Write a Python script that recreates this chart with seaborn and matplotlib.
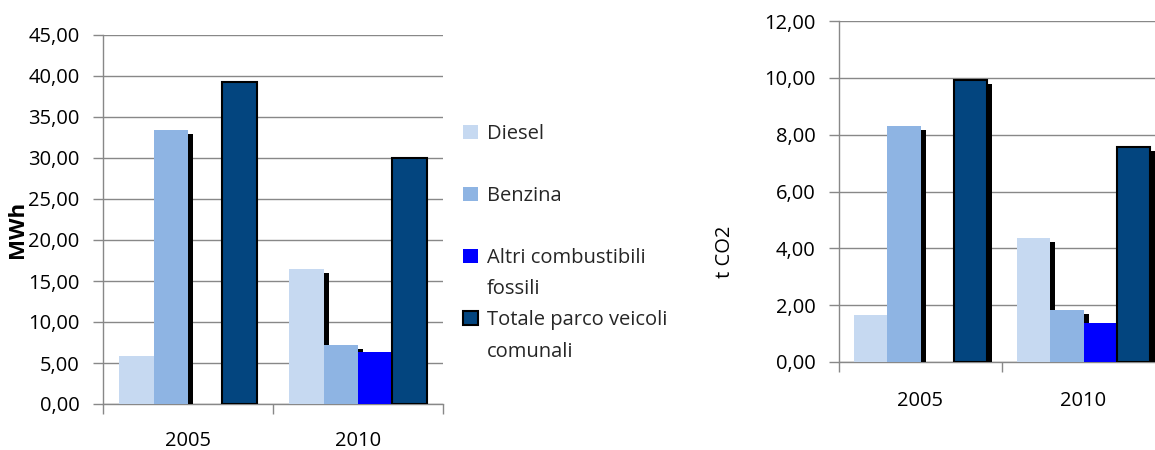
import matplotlib
matplotlib.use("Agg")
import matplotlib.pyplot as plt
import matplotlib.patheffects as pe
from matplotlib.patches import Rectangle
from matplotlib.ticker import FixedLocator, FuncFormatter
import seaborn as sns
import pandas as pd

years = ["2005", "2010"]
series = ["Diesel", "Benzina", "Altri combustibili fossili", "Totale parco veicoli comunali"]
legend_labels = ["Diesel", "Benzina", "Altri combustibili", "fossili", "Totale parco veicoli", "comunali"]
mwh_diesel = [5.9, 16.5]
mwh_benzina = [33.4, 7.2]
mwh_altri = [0.0, 6.3]
mwh_totale = [39.3, 30.0]
co2_diesel = [1.64, 4.35]
co2_benzina = [8.29, 1.82]
co2_altri = [0.0, 1.36]
co2_totale = [9.91, 7.57]
mwh_ticks = [0, 5, 10, 15, 20, 25, 30, 35, 40, 45]
co2_ticks = [0, 2, 4, 6, 8, 10, 12]

colors = ["#C6D9F1", "#8EB4E3", "#0000FF", "#03457F"]
GRID = "#888888"
FS = 14.5

sns.set_theme(style="white")
plt.rcParams["font.family"] = ["Open Sans", "DejaVu Sans"]


def make_df(vals):
    rows = []
    for s, v in zip(series, vals):
        for y, x in zip(years, v):
            rows.append({"year": y, "series": s, "value": x})
    return pd.DataFrame(rows)


df_mwh = make_df([mwh_diesel, mwh_benzina, mwh_altri, mwh_totale])
df_co2 = make_df([co2_diesel, co2_benzina, co2_altri, co2_totale])

fig = plt.figure(figsize=(11.55, 4.5), dpi=100)
ax1 = fig.add_axes([103 / 1155, 46 / 450, 340 / 1155, 369 / 450])
ax2 = fig.add_axes([839 / 1155, 88 / 450, 326 / 1155, 341 / 450])

comma = FuncFormatter(lambda v, p: f"{v:.2f}".replace(".", ","))

shadow = [pe.SimplePatchShadow(offset=(3.6, -2.9), shadow_rgbFace="black", alpha=1.0), pe.Normal()]


def draw(ax, df, ticks, shadow_series, xpad):
    sns.barplot(data=df, x="year", y="value", hue="series", hue_order=series,
                palette=colors, width=0.81, saturation=1, ax=ax, legend=False,
                errorbar=None, zorder=3)
    for i, cont in enumerate(ax.containers):
        for bar in cont:
            bar.set_zorder(3)
            if i == 3:
                bar.set_edgecolor("black")
                bar.set_linewidth(1.5)
            else:
                bar.set_linewidth(0)
            if i in shadow_series:
                bar.set_path_effects(shadow)
    ax.set_ylim(ticks[0], ticks[-1])
    ax.set_xlim(-0.5, 1.5)
    ax.yaxis.set_major_locator(FixedLocator(ticks))
    ax.yaxis.set_major_formatter(comma)
    ax.grid(axis="y", color=GRID, linewidth=1.0, zorder=0)
    ax.set_axisbelow(True)
    for s in ["top", "right"]:
        ax.spines[s].set_visible(False)
    for s in ["left", "bottom"]:
        ax.spines[s].set_color(GRID)
        ax.spines[s].set_linewidth(1.0)
    ax.tick_params(axis="y", which="major", length=7, width=1, color=GRID,
                   labelsize=FS, pad=10, labelcolor="black", left=True)
    ax.set_xticks([-0.5, 0.5, 1.5])
    ax.set_xticklabels([])
    ax.set_xticks([0, 1], minor=True)
    ax.set_xticklabels(years, minor=True)
    ax.tick_params(axis="x", which="major", length=7, width=1, color=GRID, bottom=True)
    ax.tick_params(axis="x", which="minor", length=0, labelsize=FS, pad=xpad,
                   labelcolor="black")
    ax.set_xlabel("")


draw(ax1, df_mwh, mwh_ticks, [0, 1, 2], 19.5)
draw(ax2, df_co2, co2_ticks, [0, 1, 2, 3], 21)

ax1.set_ylabel("MWh", fontsize=16, fontweight="bold", color="black")
ax1.yaxis.set_label_coords(-0.22, 0.472)
ax2.set_ylabel("t CO2", fontsize=FS, color="black")
ax2.yaxis.set_label_coords(-0.319, 0.323)

# legend (blank entries reproduce the spacing of the original)
blank = Rectangle((0, 0), 1, 1, facecolor="none", edgecolor="none")
handles = [
    Rectangle((0, 0), 1, 1, facecolor=colors[0], edgecolor="none"), blank,
    Rectangle((0, 0), 1, 1, facecolor=colors[1], edgecolor="none"), blank,
    Rectangle((0, 0), 1, 1, facecolor=colors[2], edgecolor="none"), blank,
    Rectangle((0, 0), 1, 1, facecolor=colors[3], edgecolor="black", linewidth=1.5), blank,
]
labels = [legend_labels[0], "", legend_labels[1], "", legend_labels[2], legend_labels[3],
          legend_labels[4], legend_labels[5]]
fig.legend(handles, labels, loc="upper left", bbox_to_anchor=(463 / 1155, 1 - 124 / 450),
           frameon=False, fontsize=FS, handlelength=0.75, handleheight=0.7,
           handletextpad=0.45, labelspacing=0.55, borderpad=0, borderaxespad=0)

fig.savefig("out.png", dpi=100)
